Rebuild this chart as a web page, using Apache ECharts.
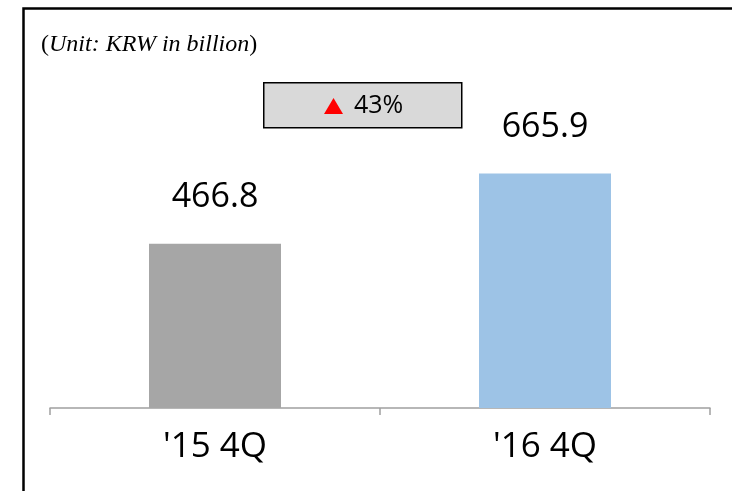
<!DOCTYPE html>
<html>
<head>
<meta charset="utf-8">
<script src="https://cdn.jsdelivr.net/npm/echarts@6/dist/echarts.min.js"></script>
<style>html,body{margin:0;padding:0;background:#fff}#c{width:732px;height:491px}</style>
</head>
<body>
<div id="c"></div>
<script>
var categories = ["'15 4Q", "'16 4Q"];
var values = [466.8, 665.9];
var barColors = ['#a6a6a6', '#9dc3e6'];
var growthText = '43%';
var unitText = 'Unit: KRW in billion';

var chart = echarts.init(document.getElementById('c'), null, {renderer: 'canvas'});
var font = '"Open Sans", "Noto Sans", sans-serif';
chart.setOption({
  animation: false,
  backgroundColor: '#fff',
  grid: {left: 50, right: 22, top: 56, bottom: 83},
  xAxis: {
    type: 'category',
    data: categories,
    axisLine: {lineStyle: {color: '#a0a0a0', width: 1.5}},
    axisTick: {show: true, length: 7, lineStyle: {color: '#a0a0a0', width: 1.5}},
    axisLabel: {fontSize: 35, color: '#000', fontFamily: font, margin: 22}
  },
  yAxis: {type: 'value', min: 0, max: 1000, show: false, splitLine: {show: false}},
  series: [{
    type: 'bar',
    barWidth: '40%',
    data: values.map(function (v, i) { return {value: v, itemStyle: {color: barColors[i]}}; }),
    label: {show: true, position: 'top', distance: 29, fontSize: 34, color: '#000', fontFamily: font,
      formatter: function (p) { return p.value.toFixed(1); }}
  }],
  graphic: [
    {type: 'rect', left: 21, top: 6, shape: {width: 800, height: 600},
      style: {fill: 'none', stroke: '#000', lineWidth: 2.5}, z: 10},
    {type: 'text', left: 41, top: 33,
      style: {text: '(' + '{i|' + unitText + '})', fontFamily: '"Liberation Serif", serif', fontSize: 24, fill: '#000',
        rich: {i: {fontStyle: 'italic', fontFamily: '"Liberation Serif", serif', fontSize: 24}}}},
    {type: 'rect', left: 263, top: 82, shape: {width: 198, height: 45},
      style: {fill: '#d9d9d9', stroke: '#000', lineWidth: 1.5}},
    {type: 'polygon', shape: {points: [[333.5, 98], [343, 114], [324, 114]]}, style: {fill: '#ff0000'}},
    {type: 'text', left: 354, top: 93,
      style: {text: growthText, fontFamily: font, fontSize: 25, fill: '#000'}}
  ]
});
</script>
</body>
</html>
